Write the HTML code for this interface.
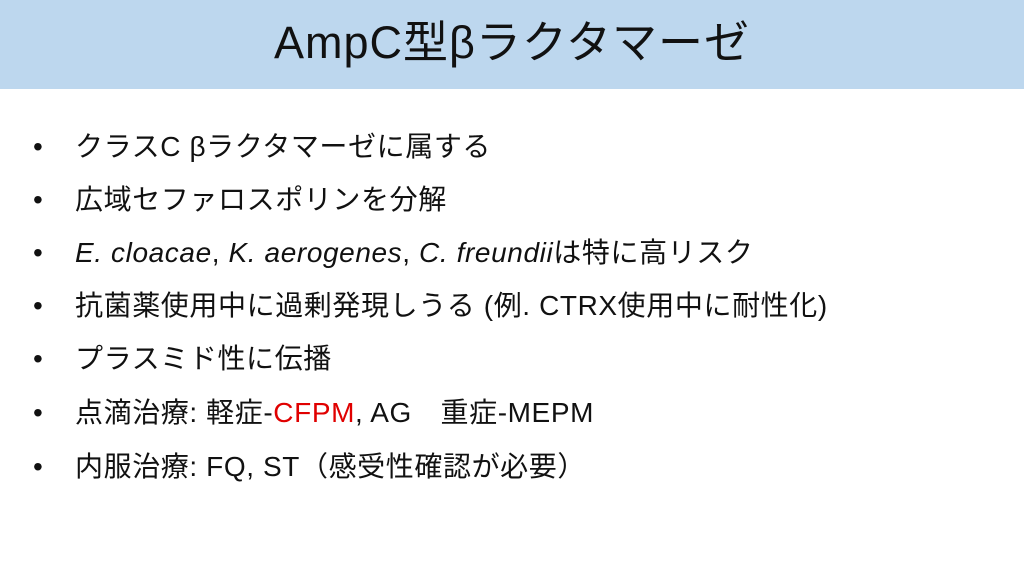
<!DOCTYPE html>
<html><head><meta charset="utf-8"><style>
html,body{margin:0;padding:0;}
body{width:1024px;height:576px;background:#fff;position:relative;overflow:hidden;font-family:"Liberation Sans","Noto Sans CJK JP",sans-serif;color:#111;}
.hdr{position:absolute;left:0;top:0;width:1024px;height:89px;background:#BDD7EE;}
.title{position:absolute;left:0;top:14px;width:1024px;text-align:center;font-size:45px;line-height:58px;letter-spacing:1px;}
.b{position:absolute;left:33px;font-size:28px;line-height:32px;white-space:nowrap;letter-spacing:0.6px;}
.b span.d{display:inline-block;width:42px;}
.red{color:#e00000;}
</style></head><body>
<div class="hdr"></div>
<div class="title">AmpC型βラクタマーゼ</div>
<div class="b" style="top:131px"><span class="d">•</span>クラスC βラクタマーゼに属する</div>
<div class="b" style="top:184px"><span class="d">•</span>広域セファロスポリンを分解</div>
<div class="b" style="top:237px"><span class="d">•</span><i>E. cloacae</i>, <i>K. aerogenes</i>, <i>C. freundii</i>は特に高リスク</div>
<div class="b" style="top:290px"><span class="d">•</span>抗菌薬使用中に過剰発現しうる (例. CTRX使用中に耐性化)</div>
<div class="b" style="top:343px"><span class="d">•</span>プラスミド性に伝播</div>
<div class="b" style="top:397px"><span class="d">•</span>点滴治療: 軽症-<span class="red">CFPM</span>, AG　重症-MEPM</div>
<div class="b" style="top:451px"><span class="d">•</span>内服治療: FQ, ST（感受性確認が必要）</div>
</body></html>
